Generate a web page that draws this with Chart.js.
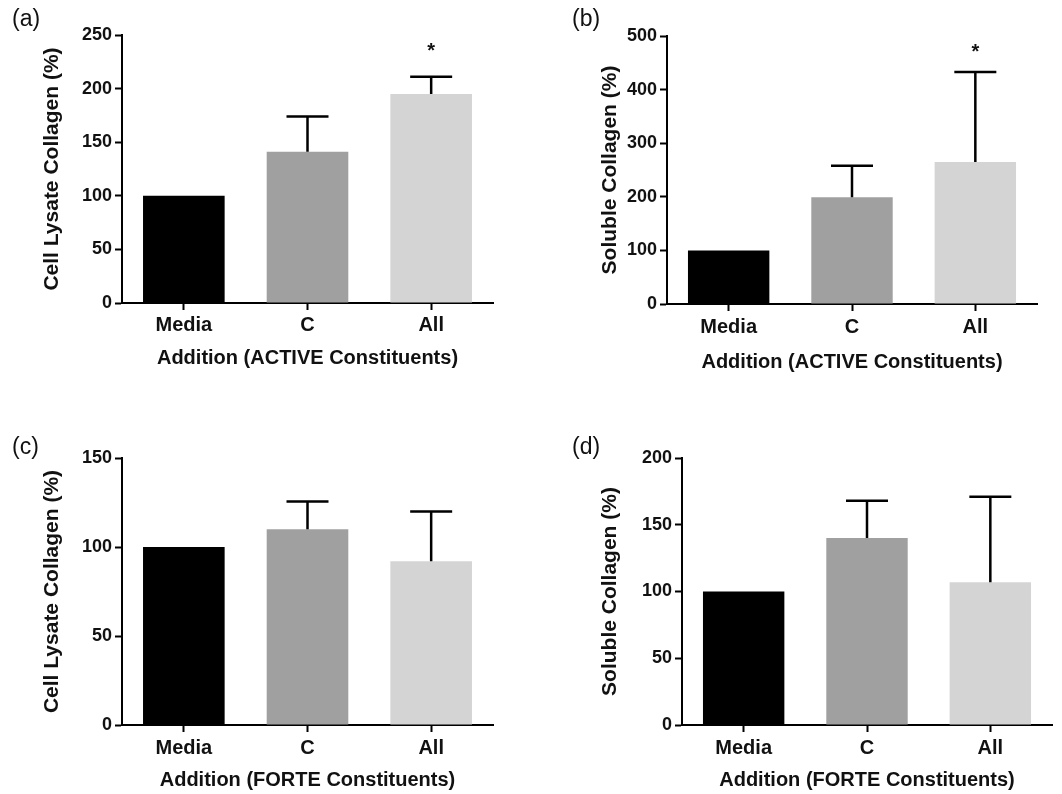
<!DOCTYPE html>
<html>
<head>
<meta charset="utf-8">
<script src="https://cdn.jsdelivr.net/npm/chart.js@4"></script>
<style>
  html, body { margin: 0; padding: 0; background: #fff; }
  #wrap { position: relative; width: 1062px; height: 794px; }
  #wrap canvas { position: absolute; left: 0; top: 0; }
</style>
</head>
<body>
<div id="wrap">
  <canvas id="panelA" width="1062" height="794"></canvas>
  <canvas id="panelB" width="1062" height="794"></canvas>
  <canvas id="panelC" width="1062" height="794"></canvas>
  <canvas id="panelD" width="1062" height="794"></canvas>
</div>
<script>
/* ── Data ───────────────────────────────────────── */
const categories = ['Media', 'C', 'All'];
const barColors = ['#000000', '#a0a0a0', '#d4d4d4'];

const activeLysate = [100, 141, 195];
const activeLysateErr = [0, 33, 16];
const activeSoluble = [100, 199, 265];
const activeSolubleErr = [0, 59, 168];
const forteLysate = [100, 110, 92];
const forteLysateErr = [0, 15.5, 28];
const forteSoluble = [100, 140, 107];
const forteSolubleErr = [0, 28, 64];

const activeSig = ['', '', '*'];
const forteSig = ['', '', ''];

const FONT = "'Liberation Sans', Arial, sans-serif";
const INK = '#111';

/* ── Error bars, significance marks, panel letter ── */
const extras = {
    id: 'extras',
    afterDatasetsDraw(chart, args, opts) {
        const ctx = chart.ctx;
        const meta = chart.getDatasetMeta(0);
        const yScale = chart.scales.y;
        const area = chart.chartArea;
        ctx.save();
        ctx.strokeStyle = '#000';
        ctx.lineWidth = 2.5;
        meta.data.forEach((bar, i) => {
            const err = opts.errors[i];
            if (!err) return;
            const top = yScale.getPixelForValue(opts.values[i] + err);
            ctx.beginPath();
            ctx.moveTo(bar.x, bar.y);
            ctx.lineTo(bar.x, top);
            ctx.moveTo(bar.x - 21, top);
            ctx.lineTo(bar.x + 21, top);
            ctx.stroke();
        });
        ctx.fillStyle = INK;
        ctx.font = 'bold 20px ' + FONT;
        ctx.textAlign = 'center';
        ctx.textBaseline = 'alphabetic';
        meta.data.forEach((bar, i) => {
            if (opts.sig[i]) ctx.fillText(opts.sig[i], bar.x, area.top + 22);
        });
        ctx.font = '23px ' + FONT;
        ctx.textAlign = 'left';
        ctx.textBaseline = 'middle';
        ctx.fillText(opts.letter, opts.letterX, opts.letterY);
        ctx.restore();
    }
};

/* ── Panel builder ──────────────────────────────── */
function makePanel(p) {
    const padLeft = p.yTitleX - 12.6 - 4;
    const xBottom = p.xTitleY + 12 + 4;
    new Chart(document.getElementById(p.id).getContext('2d'), {
        type: 'bar',
        data: {
            labels: categories,
            datasets: [{
                data: p.values,
                backgroundColor: barColors,
                borderWidth: 0,
                categoryPercentage: 1,
                barPercentage: 0.66
            }]
        },
        options: {
            responsive: false,
            animation: false,
            devicePixelRatio: 1,
            layout: {
                padding: { left: padLeft, top: p.area[2], right: 1062 - p.area[1], bottom: 794 - xBottom }
            },
            plugins: {
                legend: { display: false },
                tooltip: { enabled: false },
                extras: {
                    values: p.values, errors: p.errors, sig: p.sig,
                    letter: p.letter, letterX: p.letterX, letterY: p.letterY
                }
            },
            scales: {
                x: {
                    offset: true,
                    grid: { display: true, drawOnChartArea: false, drawTicks: true, tickLength: 7, tickWidth: 2, tickColor: '#000', offset: false },
                    border: { display: true, color: '#000', width: 2 },
                    ticks: { color: INK, font: { family: FONT, size: 20, weight: 'bold' }, padding: p.xLabelY - p.area[3] - 7 - 12, maxRotation: 0, autoSkip: false },
                    title: { display: true, text: p.xTitle, color: INK, font: { family: FONT, size: 20, weight: 'bold' }, padding: { top: 4, bottom: 4 } },
                    afterFit: s => { s.height = xBottom - p.area[3]; }
                },
                y: {
                    min: 0,
                    max: p.yMax,
                    grid: { display: true, drawOnChartArea: false, drawTicks: true, tickLength: 7, tickWidth: 2, tickColor: '#000' },
                    border: { display: true, color: '#000', width: 2 },
                    ticks: { stepSize: p.yStep, color: INK, font: { family: FONT, size: 18, weight: 'bold' }, padding: 3 },
                    title: { display: true, text: p.yTitle, color: INK, font: { family: FONT, size: 21, weight: 'bold' }, padding: { top: 4, bottom: 4 } },
                    afterFit: s => { s.width = p.area[0] - padLeft; }
                }
            }
        },
        plugins: [extras]
    });
}

// area = [left, right, top, bottom] of the plot box
makePanel({
    id: 'panelA', values: activeLysate, errors: activeLysateErr, sig: activeSig,
    yMax: 250, yStep: 50, yTitle: 'Cell Lysate Collagen (%)', xTitle: 'Addition (ACTIVE Constituents)',
    area: [122, 493, 35, 303], yTitleX: 52, xLabelY: 325, xTitleY: 358,
    letter: '(a)', letterX: 12, letterY: 20
});
makePanel({
    id: 'panelB', values: activeSoluble, errors: activeSolubleErr, sig: activeSig,
    yMax: 500, yStep: 100, yTitle: 'Soluble Collagen (%)', xTitle: 'Addition (ACTIVE Constituents)',
    area: [667, 1037, 36, 304], yTitleX: 610, xLabelY: 327, xTitleY: 362,
    letter: '(b)', letterX: 572, letterY: 20
});
makePanel({
    id: 'panelC', values: forteLysate, errors: forteLysateErr, sig: forteSig,
    yMax: 150, yStep: 50, yTitle: 'Cell Lysate Collagen (%)', xTitle: 'Addition (FORTE Constituents)',
    area: [122, 493, 458, 725], yTitleX: 52, xLabelY: 748, xTitleY: 780,
    letter: '(c)', letterX: 12, letterY: 448
});
makePanel({
    id: 'panelD', values: forteSoluble, errors: forteSolubleErr, sig: forteSig,
    yMax: 200, yStep: 50, yTitle: 'Soluble Collagen (%)', xTitle: 'Addition (FORTE Constituents)',
    area: [682, 1052, 458, 725], yTitleX: 610, xLabelY: 748, xTitleY: 780,
    letter: '(d)', letterX: 572, letterY: 448
});
</script>
</body>
</html>
